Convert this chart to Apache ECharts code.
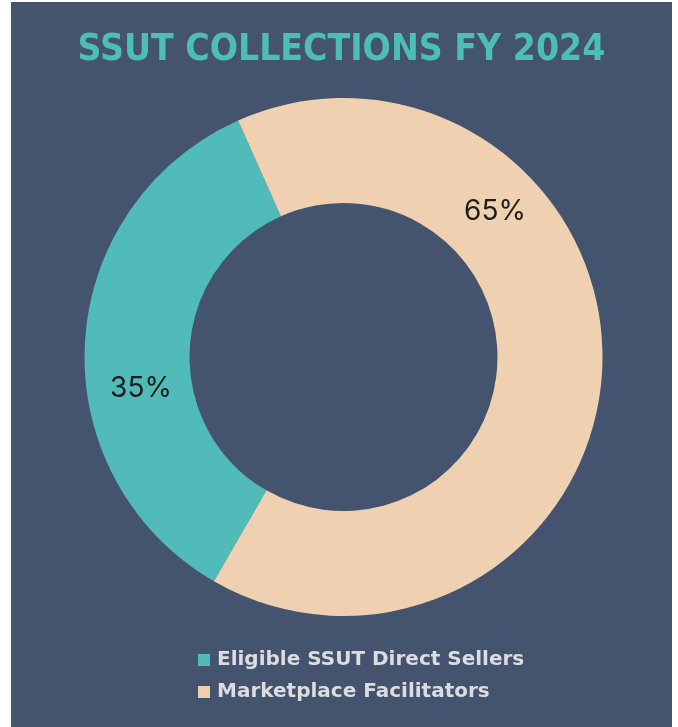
<!DOCTYPE html>
<html>
<head>
<meta charset="utf-8">
<script src="https://cdn.jsdelivr.net/npm/echarts@6/dist/echarts.min.js"></script>
<style>
  html, body { margin: 0; padding: 0; background: #ffffff; }
  #chart { position: absolute; left: 11px; top: 2px; width: 661px; height: 725px; }
</style>
</head>
<body>
<div id="chart"></div>
<script>
// Data
var categories = ['Eligible SSUT Direct Sellers', 'Marketplace Facilitators'];
var shares = [35, 65];
var sliceColors = ['#50bbb8', '#efd0b1'];

// Where the % labels sit inside the ring (chart px)
var labelSpots = [[130, 387], [484, 210]];

var chart = echarts.init(document.getElementById('chart'));

var option = {
    backgroundColor: '#44546e',
    title: {
        text: 'SSUT COLLECTIONS FY 2024',
        left: 'center',
        top: 25,
        textStyle: {
            fontFamily: '"DejaVu Sans Condensed", "Liberation Sans", sans-serif',
            fontWeight: 'bold',
            fontSize: 37,
            color: '#4dbdb8'
        }
    },
    legend: {
        orient: 'vertical',
        left: 182,
        top: 643,
        itemWidth: 12,
        itemHeight: 12,
        itemGap: 12,
        icon: 'rect',
        textStyle: {
            fontFamily: '"DejaVu Sans"',
            fontWeight: 'bold',
            fontSize: 20,
            color: '#dcdde1',
            padding: [0, 0, 0, 2]
        },
        data: categories
    },
    series: [
        {
            name: 'SSUT Collections',
            type: 'pie',
            center: [332.5, 355],
            radius: [154, 259],
            startAngle: 240,
            clockwise: true,
            silent: true,
            label: {
                show: true,
                position: 'inside',
                formatter: '{c}%',
                fontFamily: 'Inter',
                fontSize: 28,
                color: '#1e1e1e'
            },
            labelLine: { show: false },
            labelLayout: function (params) {
                var p = labelSpots[params.dataIndex];
                return { x: p[0], y: p[1], align: 'center', verticalAlign: 'middle' };
            },
            data: categories.map(function (name, i) {
                return { name: name, value: shares[i], itemStyle: { color: sliceColors[i] } };
            })
        }
    ]
};
chart.setOption(option);

window.addEventListener('resize', function () {
    chart.resize();
});
</script>
</body>
</html>
